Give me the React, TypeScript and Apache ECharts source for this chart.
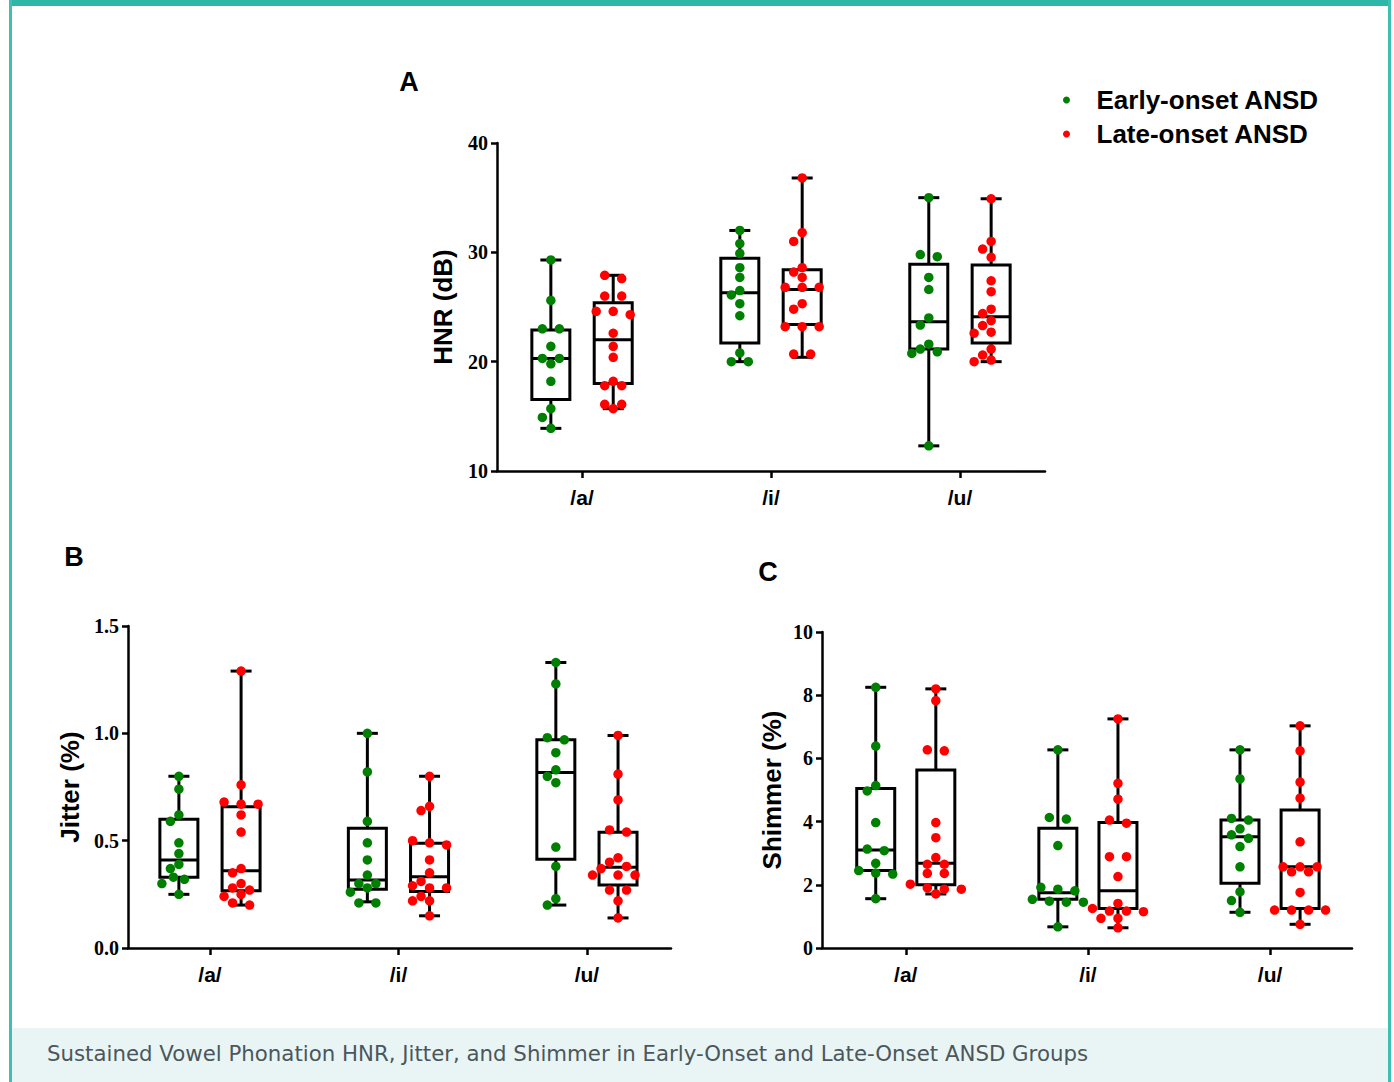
import React, { useEffect, useRef } from "react";
import * as echarts from "echarts";

// ---------- categories / legend ----------
const CATEGORIES = ["/a/", "/i/", "/u/"];
const SERIES_NAMES = ["Early-onset ANSD", "Late-onset ANSD"];
const COLORS = ["#008000", "#ff0000"];
const CAPTION =
  "Sustained Vowel Phonation HNR, Jitter, and Shimmer in Early-Onset and Late-Onset ANSD Groups";

// ---------- Panel A: HNR (dB) ----------
const HNR_TICKS = [10, 20, 30, 40];
const HNR_EARLY = [
  [29.3, 25.6, 23.0, 23.0, 21.4, 20.3, 20.3, 19.8, 18.2, 15.7, 14.9, 13.9],
  [32.0, 30.8, 29.9, 28.6, 27.7, 26.5, 26.1, 25.3, 24.2, 20.8, 20.0, 20.0],
  [35.0, 29.8, 29.6, 27.7, 26.6, 24.0, 23.35, 21.6, 21.15, 20.9, 20.75, 12.3],
];
const HNR_LATE = [
  [27.9, 27.6, 26.0, 26.0, 24.6, 24.6, 24.3, 22.6, 21.4, 20.4, 18.2, 17.8, 17.8, 16.1, 16.1, 15.7],
  [36.8, 31.8, 31.0, 28.6, 28.2, 27.7, 26.8, 26.8, 26.8, 25.3, 24.8, 23.2, 23.2, 23.2, 20.7, 20.7],
  [34.9, 31.0, 30.3, 29.55, 27.4, 26.4, 24.8, 24.4, 23.75, 23.3, 22.7, 22.6, 21.15, 20.6, 20.15, 20.0],
];
// [min, q1, median, q3, max]
const HNR_EARLY_BOX = [
  [13.9, 16.55, 20.3, 22.9, 29.3],
  [20.0, 21.7, 26.3, 29.45, 32.0],
  [12.3, 21.15, 23.65, 28.9, 35.0],
];
const HNR_LATE_BOX = [
  [15.7, 18.0, 22.0, 25.4, 27.9],
  [20.4, 23.4, 26.6, 28.4, 36.8],
  [20.0, 21.7, 24.1, 28.85, 34.9],
];

// ---------- Panel B: Jitter (%) ----------
const JITTER_TICKS = [0, 0.5, 1.0, 1.5];
const JITTER_EARLY = [
  [0.8, 0.74, 0.62, 0.59, 0.49, 0.44, 0.39, 0.37, 0.33, 0.32, 0.3, 0.25],
  [1.0, 0.82, 0.59, 0.49, 0.41, 0.34, 0.3, 0.3, 0.28, 0.26, 0.21, 0.21],
  [1.33, 1.23, 0.98, 0.97, 0.91, 0.83, 0.8, 0.77, 0.47, 0.38, 0.23, 0.2],
];
const JITTER_LATE = [
  [1.29, 0.76, 0.68, 0.67, 0.67, 0.62, 0.54, 0.37, 0.35, 0.3, 0.28, 0.27, 0.25, 0.24, 0.21, 0.2],
  [0.8, 0.66, 0.64, 0.5, 0.49, 0.48, 0.41, 0.35, 0.31, 0.29, 0.28, 0.28, 0.24, 0.22, 0.22, 0.15],
  [0.99, 0.81, 0.69, 0.55, 0.54, 0.42, 0.4, 0.38, 0.37, 0.34, 0.34, 0.34, 0.27, 0.27, 0.22, 0.14],
];
const JITTER_EARLY_BOX = [
  [0.25, 0.33, 0.41, 0.6, 0.8],
  [0.215, 0.274, 0.317, 0.558, 1.0],
  [0.2, 0.413, 0.817, 0.97, 1.33],
];
const JITTER_LATE_BOX = [
  [0.2, 0.267, 0.36, 0.658, 1.29],
  [0.15, 0.263, 0.332, 0.488, 0.8],
  [0.14, 0.294, 0.376, 0.539, 0.99],
];

// ---------- Panel C: Shimmer (%) ----------
const SHIMMER_TICKS = [0, 2, 4, 6, 8, 10];
const SHIMMER_EARLY = [
  [8.25, 6.39, 5.14, 4.97, 3.97, 3.13, 3.08, 2.68, 2.45, 2.37, 2.34, 1.56],
  [6.27, 4.13, 4.08, 3.24, 1.92, 1.86, 1.81, 1.54, 1.48, 1.45, 1.45, 0.67],
  [6.27, 5.35, 4.1, 4.05, 3.77, 3.58, 3.47, 3.21, 2.57, 1.78, 1.5, 1.13],
];
const SHIMMER_LATE = [
  [8.2, 7.83, 6.27, 6.24, 3.97, 3.49, 2.86, 2.65, 2.65, 2.36, 2.36, 2.02, 1.9, 1.86, 1.86, 1.71],
  [7.25, 5.21, 4.71, 4.05, 3.95, 2.89, 2.89, 2.26, 1.41, 1.25, 1.17, 1.17, 1.15, 0.94, 0.94, 0.64],
  [7.03, 6.24, 5.25, 4.74, 3.36, 2.57, 2.57, 2.57, 2.41, 2.41, 1.76, 1.2, 1.2, 1.2, 1.2, 0.75],
];
const SHIMMER_EARLY_BOX = [
  [1.56, 2.45, 3.1, 5.05, 8.25],
  [0.67, 1.54, 1.75, 3.79, 6.27],
  [1.13, 2.05, 3.52, 4.05, 6.27],
];
const SHIMMER_LATE_BOX = [
  [1.71, 2.0, 2.68, 5.63, 8.2],
  [0.64, 1.25, 1.81, 3.97, 7.25],
  [0.75, 1.25, 2.57, 4.37, 7.03],
];

// ---------- layout ----------
const W = 1394;
const H = 1082;
const GROUP_OFFSET = 0.165;
const BOX_HALF = 19;
const CAP_HALF = 10.5;
const LINE_W = 3;
const DOT = 9.5;

type Panel = {
  letter: string;
  letterPos: [number, number];
  title: string;
  nameGap: number;
  grid: { left: number; top: number; width: number; height: number };
  xMin: number;
  xMax: number;
  ticks: number[];
  decimals: number;
  early: number[][];
  late: number[][];
  earlyBox: number[][];
  lateBox: number[][];
};

const PANELS: Panel[] = [
  {
    letter: "A",
    letterPos: [409, 82],
    title: "HNR (dB)",
    nameGap: 41,
    grid: { left: 497, top: 143, width: 548, height: 328 },
    xMin: -0.45,
    xMax: 2.45,
    ticks: HNR_TICKS,
    decimals: 0,
    early: HNR_EARLY,
    late: HNR_LATE,
    earlyBox: HNR_EARLY_BOX,
    lateBox: HNR_LATE_BOX,
  },
  {
    letter: "B",
    letterPos: [74, 557],
    title: "Jitter (%)",
    nameGap: 45,
    grid: { left: 128, top: 626, width: 543, height: 322 },
    xMin: -0.435,
    xMax: 2.446,
    ticks: JITTER_TICKS,
    decimals: 1,
    early: JITTER_EARLY,
    late: JITTER_LATE,
    earlyBox: JITTER_EARLY_BOX,
    lateBox: JITTER_LATE_BOX,
  },
  {
    letter: "C",
    letterPos: [768, 572],
    title: "Shimmer (%)",
    nameGap: 37,
    grid: { left: 822, top: 632, width: 530, height: 316 },
    xMin: -0.46,
    xMax: 2.45,
    ticks: SHIMMER_TICKS,
    decimals: 0,
    early: SHIMMER_EARLY,
    late: SHIMMER_LATE,
    earlyBox: SHIMMER_EARLY_BOX,
    lateBox: SHIMMER_LATE_BOX,
  },
];

// simple beeswarm: pixel offsets so that dots do not overlap
function swarmOffsets(vals: number[], pxY: number): number[] {
  const D = 9;
  const STEP = 8.5;
  const slots = [0];
  for (let k = 1; k <= 8; k++) slots.push(-k * STEP, k * STEP);
  const order = vals.map((_, i) => i).sort((a, b) => vals[b] - vals[a]);
  const placed: { x: number; y: number }[] = [];
  const out = new Array(vals.length).fill(0);
  const free = (x: number, y: number, list: { x: number; y: number }[]) =>
    list.every((p) => Math.hypot(p.x - x, p.y - y) >= D);
  let i = 0;
  while (i < order.length) {
    let j = i + 1;
    while (j < order.length && (vals[order[j - 1]] - vals[order[j]]) * pxY < 4) j++;
    const n = j - i;
    const ys = order.slice(i, j).map((k) => -vals[k] * pxY);
    let row: { x: number; y: number; idx: number }[] | null = null;
    // centred patterns first
    for (const sp of [17, 11]) {
      const cand = ys.map((y, k) => ({ x: (k - (n - 1) / 2) * sp, y, idx: order[i + k] }));
      if (cand.every((p) => free(p.x, p.y, placed))) {
        row = cand;
        break;
      }
    }
    if (!row) {
      row = [];
      for (let k = i; k < j; k++) {
        const y = -vals[order[k]] * pxY;
        const all = placed.concat(row);
        const x = slots.find((s) => free(s, y, all)) ?? 0;
        row.push({ x, y, idx: order[k] });
      }
      const mean = row.reduce((s, p) => s + p.x, 0) / row.length;
      const shift = -Math.round(mean / STEP) * STEP;
      if (shift !== 0) {
        const shifted = row.map((p) => ({ ...p, x: p.x + shift }));
        if (shifted.every((p) => free(p.x, p.y, placed))) row = shifted;
      }
    }
    row.forEach((p) => {
      out[p.idx] = p.x;
      placed.push({ x: p.x, y: p.y });
    });
    i = j;
  }
  return out;
}

const boxRenderItem = (params: any, api: any) => {
  const x = api.value(0);
  const p = (v: number) => api.coord([x, v]);
  const [cx, yMin] = p(api.value(1));
  const yQ1 = p(api.value(2))[1];
  const yMed = p(api.value(3))[1];
  const yQ3 = p(api.value(4))[1];
  const yMax = p(api.value(5))[1];
  const st = { stroke: "#000", lineWidth: LINE_W, fill: "none" };
  return {
    type: "group",
    children: [
      { type: "line", shape: { x1: cx, y1: yMax, x2: cx, y2: yQ3 }, style: st },
      { type: "line", shape: { x1: cx, y1: yQ1, x2: cx, y2: yMin }, style: st },
      { type: "line", shape: { x1: cx - CAP_HALF, y1: yMax, x2: cx + CAP_HALF, y2: yMax }, style: st },
      { type: "line", shape: { x1: cx - CAP_HALF, y1: yMin, x2: cx + CAP_HALF, y2: yMin }, style: st },
      {
        type: "rect",
        shape: { x: cx - BOX_HALF, y: yQ3, width: BOX_HALF * 2, height: yQ1 - yQ3 },
        style: { stroke: "#000", lineWidth: LINE_W, fill: "none" },
      },
      { type: "line", shape: { x1: cx - BOX_HALF, y1: yMed, x2: cx + BOX_HALF, y2: yMed }, style: st },
    ],
  };
};

function buildOption() {
  const grid: any[] = [];
  const xAxis: any[] = [];
  const yAxis: any[] = [];
  const series: any[] = [];
  const axisLine = { show: true, onZero: false, lineStyle: { color: "#000", width: 2.5 } };
  const tick = { show: true, lineStyle: { color: "#000", width: 2.5 } };

  PANELS.forEach((p, gi) => {
    grid.push({ ...p.grid, containLabel: false, outerBoundsMode: "none" });
    const yMin = p.ticks[0];
    const yMax = p.ticks[p.ticks.length - 1];
    const interval = p.ticks[1] - p.ticks[0];
    xAxis.push({
      type: "value",
      gridIndex: gi,
      min: p.xMin,
      max: p.xMax,
      axisLine,
      axisTick: { ...tick, length: 7, customValues: [0, 1, 2] },
      splitLine: { show: false },
      axisLabel: {
        customValues: [0, 1, 2],
        formatter: (v: number) => CATEGORIES[Math.round(v)] ?? "",
        fontFamily: "Liberation Sans, Arial, sans-serif",
        fontWeight: "bold",
        fontSize: 21,
        color: "#000",
        margin: 16,
      },
    });
    yAxis.push({
      type: "value",
      gridIndex: gi,
      min: yMin,
      max: yMax,
      interval,
      axisLine,
      axisTick: { ...tick, length: 6 },
      splitLine: { show: false },
      axisLabel: {
        formatter: (v: number) => v.toFixed(p.decimals),
        fontFamily: "Liberation Serif, Times New Roman, serif",
        fontWeight: "bold",
        fontSize: 20,
        color: "#000",
        margin: 9,
      },
      name: p.title,
      nameLocation: "middle",
      nameGap: p.nameGap,
      nameTextStyle: {
        fontFamily: "Liberation Sans, Arial, sans-serif",
        fontWeight: "bold",
        fontSize: 26,
        color: "#000",
      },
    });

    const pxX = p.grid.width / (p.xMax - p.xMin);
    const pxY = p.grid.height / (yMax - yMin);

    [p.early, p.late].forEach((groups, si) => {
      const off = si === 0 ? -GROUP_OFFSET : GROUP_OFFSET;
      const boxes = si === 0 ? p.earlyBox : p.lateBox;
      series.push({
        type: "custom",
        xAxisIndex: gi,
        yAxisIndex: gi,
        z: 2,
        silent: true,
        renderItem: boxRenderItem,
        data: boxes.map((b, ci) => [ci + off, ...b]),
        encode: { x: 0, y: [1, 2, 3, 4, 5] },
      });
      const pts: number[][] = [];
      groups.forEach((vals, ci) => {
        const offs = swarmOffsets(vals, pxY);
        vals.forEach((v, k) => pts.push([ci + off + offs[k] / pxX, v]));
      });
      series.push({
        type: "scatter",
        name: SERIES_NAMES[si],
        xAxisIndex: gi,
        yAxisIndex: gi,
        z: 3,
        symbol: "circle",
        symbolSize: DOT,
        itemStyle: { color: COLORS[si], opacity: 1 },
        emphasis: { disabled: true },
        data: pts,
      });
    });
  });

  const TEAL = "#2eb6a7";
  const graphic: any[] = [
    { type: "rect", silent: true, shape: { x: 12, y: 1028, width: 1376, height: 54 }, style: { fill: "#e8f5f4" } },
    { type: "rect", silent: true, shape: { x: 9, y: 0, width: 1382, height: 6 }, style: { fill: TEAL } },
    { type: "rect", silent: true, shape: { x: 9, y: 0, width: 3, height: H }, style: { fill: "#3dbfb1" } },
    { type: "rect", silent: true, shape: { x: 1388, y: 0, width: 3, height: H }, style: { fill: "#3dbfb1" } },
    {
      type: "text",
      silent: true,
      x: 47,
      y: 1053,
      style: {
        text: CAPTION,
        fontSize: 21.3,
        fontFamily: "DejaVu Sans, Noto Sans, sans-serif",
        fill: "#4b575c",
        align: "left",
        verticalAlign: "middle",
      },
    },
    ...PANELS.map((p) => ({
      type: "text",
      silent: true,
      x: p.letterPos[0],
      y: p.letterPos[1],
      style: {
        text: p.letter,
        fontSize: 27,
        fontWeight: "bold",
        fontFamily: "Liberation Sans, Arial, sans-serif",
        fill: "#000",
        align: "center",
        verticalAlign: "middle",
      },
    })),
  ];

  return {
    animation: false,
    backgroundColor: "#ffffff",
    grid,
    xAxis,
    yAxis,
    series,
    graphic,
    legend: {
      show: true,
      orient: "vertical",
      left: 1058,
      top: 81,
      itemWidth: 50,
      itemHeight: 7,
      itemGap: 6,
      selectedMode: false,
      data: SERIES_NAMES.map((n) => ({ name: n, icon: "circle" })),
      textStyle: {
        fontFamily: "Liberation Sans, Arial, sans-serif",
        fontWeight: "bold",
        fontSize: 26,
        color: "#000",
        lineHeight: 28,
      },
    },
  };
}

export default function App() {
  const ref = useRef<HTMLDivElement>(null);
  useEffect(() => {
    if (!ref.current) return;
    const chart = echarts.init(ref.current, undefined, { renderer: "svg", width: W, height: H });
    chart.setOption(buildOption() as any);
    return () => chart.dispose();
  }, []);
  return (
    <div
      ref={ref}
      style={{ position: "absolute", left: 0, top: 0, width: W, height: H, background: "#fff" }}
    />
  );
}
